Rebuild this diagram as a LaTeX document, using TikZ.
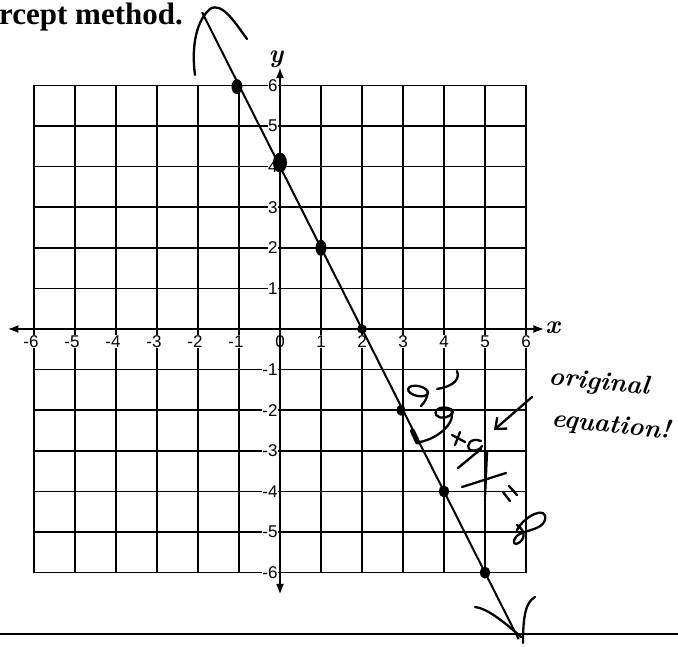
\documentclass[tikz,border=0pt]{standalone}
\usepackage{fontspec}
\newfontfamily\ticksfont{Liberation Sans}
\newfontfamily\titlefont{Liberation Serif}
\usetikzlibrary{arrows.meta,shapes.geometric}
\begin{document}
\begin{tikzpicture}[x=1pt,y=-1pt,
  gridline/.style={line width=1.7pt},
  axisline/.style={line width=2.3pt},
  tick/.style={font=\ticksfont\fontsize{17}{17}\selectfont, fill=white, inner sep=0.6pt},
  hand/.style={line width=2.3pt, line cap=round, line join=round},
  dot/.style={ellipse, fill=black, inner sep=0pt},
  handtext/.style={font=\bfseries\itshape\fontsize{26}{26}\selectfont, inner sep=0pt}]
\useasboundingbox (0,0) rectangle (678,647);
\fill[white] (0,0) rectangle (678,647);
% title
\node[anchor=base west, inner sep=0pt, font=\titlefont\bfseries\fontsize{31}{31}\selectfont] (title) at (-1,25) {rcept method.};
% bottom rule
\coordinate (ruleL) at (0,634);
\coordinate (ruleR) at (678,634);
\draw[line width=1.8pt] (ruleL) -- (ruleR);
\begin{scope}[shift={(280pt,-329pt)},x=41pt,y=40.6pt]
  \draw[gridline] (-6,-6) grid[step=1] (6,6);
  \coordinate (xl) at (-6.65,0);
  \coordinate (xr) at (6.45,0);
  \coordinate (yb) at (0,-6.55);
  \coordinate (yt) at (0,6.45);
  \draw[axisline,{Latex[length=11pt,width=8pt]}-{Latex[length=11pt,width=8pt]}] (xl) -- (xr);
  % tick labels
  \foreach \k in {1,...,6} {
    \node[tick] (xp\k) at (\k,-0.31) {\k};
    \node[tick] (xn\k) at (-\k,-0.31) [xshift=-3pt] {-\k};
  }
  \node[tick] (x0) at (0,-0.31) {0};
  \foreach \k in {1,...,6} {
    \node[tick,anchor=east] (yp\k) at (-0.04,\k) {\k};
    \node[tick,anchor=east] (yn\k) at (-0.04,-\k) {-\k};
  }
  \draw[axisline,{Latex[length=11pt,width=8pt]}-{Latex[length=11pt,width=8pt]}] (yb) -- (yt);
  \node[font=\bfseries\itshape\fontsize{26}{26}\selectfont, inner sep=0pt] (ylab) at (-0.1,6.65) {y};
  \node[font=\bfseries\itshape\fontsize{26}{26}\selectfont, inner sep=0pt] (xlab) at (6.65,0.02) {x};
  % the line
  \coordinate (ltop) at (-1.9,7.8);
  \coordinate (lbot) at (5.82,-7.64);
  \draw[line width=2pt] (ltop) -- (lbot);
  % points
  \node[dot, minimum width=11pt, minimum height=15pt] (p1) at (-1.05,5.97) {};
  \node[dot, minimum width=14pt, minimum height=20pt] (p2) at (0,4.1) {};
  \node[dot, minimum width=11pt, minimum height=16pt] (p3) at (1,2) {};
  \node[dot, minimum width=10pt, minimum height=9pt] (p4) at (2,0) {};
  \node[dot, minimum width=9pt, minimum height=11pt] (p5) at (2.95,-2) {};
  \node[dot, minimum width=10pt, minimum height=12pt] (p6) at (4,-4) {};
  \node[dot, minimum width=10pt, minimum height=12pt] (p7) at (5,-6) {};
\end{scope}
% small mark on the line
\draw[line width=5pt, line cap=round] (412.5,431) -- (417.5,442);
% handwritten arrowheads
\draw[hand] (195,75) .. controls (191,45) and (197,20) .. (210,9) .. controls (222,1) and (236,24) .. (247,39);
\draw[hand] (475,607) .. controls (485,608) and (500,618) .. (521,637);
\draw[hand] (535,597) .. controls (526,602) and (523,615) .. (523,643);
% handwritten equation scribble
\draw[hand] (457,371) .. controls (461,381) and (450,387) .. (437,389);
\draw[hand, rotate around={-12:(418,391)}] (418,391) ellipse [x radius=10pt, y radius=5pt];
\draw[hand] (428,392) .. controls (427,398) and (425,402) .. (421,406);
\draw[hand] (452,410) .. controls (445,405) and (433,408) .. (436,415) .. controls (440,420) and (450,418) .. (453,412);
\draw[hand] (451,409) .. controls (457,421) and (440,438) .. (420,442);
\draw[hand] (452,435) -- (465,442);
\draw[hand] (460,432) -- (455,445);
\draw[hand] (481,441) .. controls (471,437) and (465,445) .. (470,450) .. controls (475,452) and (481,449) .. (482,446);
\draw[hand] (458,468) -- (481,449);
\draw[hand] (487,452) -- (485,497);
\draw[hand] (462,487) -- (506,473);
\draw[hand] (503,492) -- (510,501);
\draw[hand] (509,486) -- (517,495);
\draw[hand] (517,530) .. controls (525,515) and (548,505) .. (545,520) .. controls (542,530) and (525,530) .. (518,535) .. controls (510,542) and (515,548) .. (522,540) .. controls (526,534) and (522,528) .. (517,525);
% note
\node[handtext, rotate=-6] (orig) at (599,383) {original};
\node[handtext, rotate=-6] (equa) at (611,426) {equation!};
\coordinate (arrS) at (532,397);
\coordinate (arrE) at (494,430);
\draw[hand,-{Straight Barb[length=9pt,width=15pt]}] (arrS) -- (arrE);
\end{tikzpicture}
\end{document}
